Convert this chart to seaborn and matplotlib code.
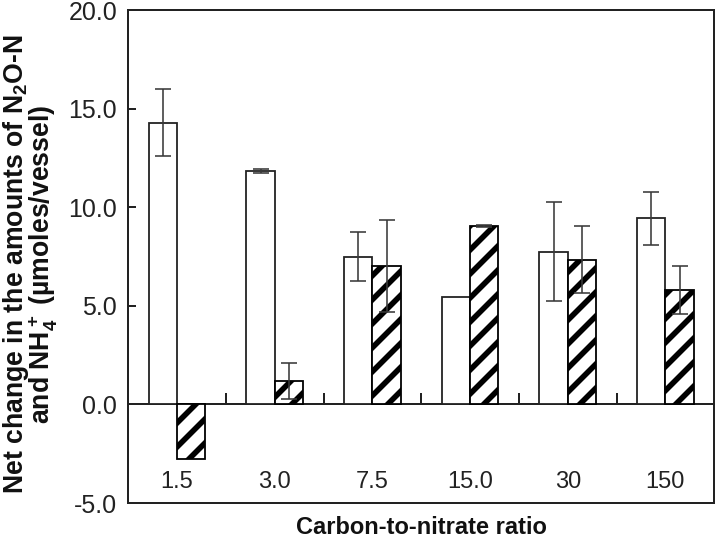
import numpy as np
import pandas as pd
import seaborn as sns
import matplotlib.pyplot as plt

# dane
ratios = ['1.5', '3.0', '7.5', '15.0', '30', '150']
n2o = [14.3, 11.85, 7.5, 5.45, 7.75, 9.45]
n2o_err = [1.7, 0.1, 1.23, np.nan, 2.5, 1.34]
nh4 = [-2.75, 1.2, 7.03, 9.05, 7.35, 5.8]
nh4_err = [np.nan, 0.9, 2.35, 0.05, 1.7, 1.2]
series = ['N2O-N', 'NH4+']

def przygotuj_dane():
    df = pd.DataFrame({
        'ratio': ratios * 2,
        'seria': [series[0]] * len(ratios) + [series[1]] * len(ratios),
        'value': n2o + nh4,
    })
    return df

def wykres(df):
    sns.set_style("ticks")
    plt.rcParams['font.family'] = ['Liberation Sans', 'DejaVu Sans']
    plt.rcParams['mathtext.fontset'] = 'custom'
    plt.rcParams['mathtext.rm'] = 'Liberation Sans:bold'
    plt.rcParams['mathtext.default'] = 'rm'
    plt.rcParams['hatch.linewidth'] = 2.8

    fig, ax = plt.subplots(figsize=(5.0, 538 / 144), dpi=144)
    fig.subplots_adjust(left=0.178, right=0.992, top=0.981, bottom=0.065)

    sns.barplot(data=df, x='ratio', y='value', hue='seria', order=ratios,
                hue_order=series, palette=['white', 'white'], width=0.58,
                errorbar=None, edgecolor='#222222', linewidth=0.9,
                legend=False, ax=ax)

    bledy = [n2o_err, nh4_err]
    wartosci = [n2o, nh4]
    for i, cont in enumerate(list(ax.containers)):
        xs = []
        for p in cont.patches:
            if i == 1:
                p.set_hatch('//')
                p.set_edgecolor('black')
            xs.append(p.get_x() + p.get_width() / 2)
        ax.errorbar(xs, wartosci[i], yerr=bledy[i], fmt='none',
                    ecolor='#3a3a3a', elinewidth=0.8, capsize=4, capthick=0.8)

    ax.set_ylim(-5, 20)
    ax.set_xlim(-0.5, len(ratios) - 0.5)
    ax.set_yticks([-5, 0, 5, 10, 15, 20])
    ax.yaxis.set_major_formatter(plt.FormatStrFormatter('%.1f'))
    ax.tick_params(axis='y', direction='in', length=4, width=1,
                   labelsize=12.5, pad=5.5, colors='#222222')
    ax.tick_params(axis='x', length=0, labelsize=11.8, pad=-16,
                   colors='#222222')

    for s in ax.spines.values():
        s.set_visible(True)
        s.set_linewidth(1.0)
        s.set_color('#222222')

    # linia zero z kreskami między grupami
    sec = ax.secondary_xaxis(0.2)
    sec.set_xticks(np.arange(len(ratios) - 1) + 0.5)
    sec.set_xticklabels([])
    sec.tick_params(direction='in', length=5.5, width=1, colors='#222222')
    sec.spines['bottom'].set_linewidth(1.0)
    sec.spines['bottom'].set_color('#222222')

    ax.set_xlabel("Carbon-to-nitrate ratio", fontsize=11.8,
                  fontweight='bold', labelpad=6.5, color='#111111')
    ax.set_ylabel("Net change in the amounts of N$_2$O-N\n"
                  "and NH$_4^+$ (\u00b5moles/vessel)",
                  fontsize=13.3, fontweight='bold', linespacing=0.85,
                  color='#111111')
    ax.yaxis.set_label_coords(-0.116, 0.485)

    fig.savefig("out.png", dpi=144)

if __name__ == "__main__":
    dane = przygotuj_dane()
    wykres(dane)
